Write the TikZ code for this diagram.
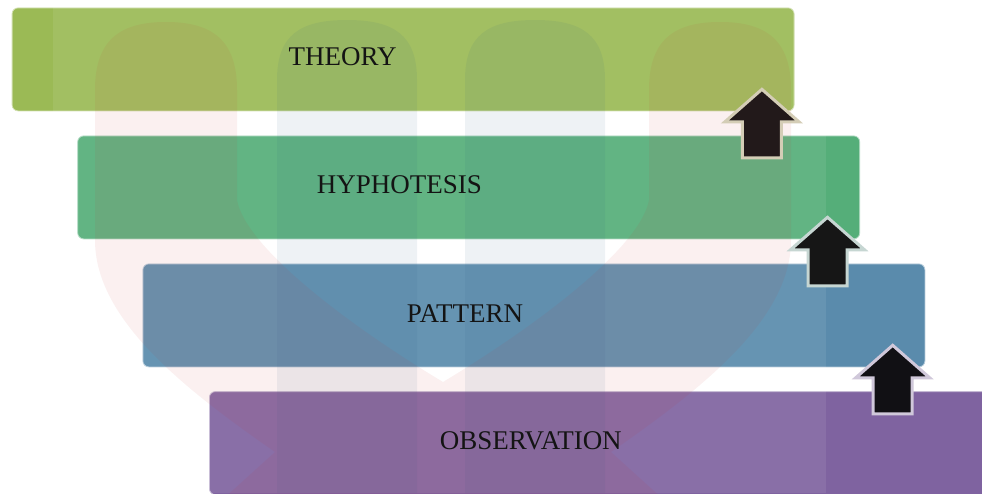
\documentclass[tikz,border=0pt]{standalone}
\usepackage{fontspec}
\setmainfont{Liberation Serif}
\usetikzlibrary{calc}
\definecolor{theorycol}{HTML}{9BBA55}
\definecolor{hypcol}{HTML}{55AE79}
\definecolor{patcol}{HTML}{5A8BAC}
\definecolor{obscol}{HTML}{7F63A0}
\definecolor{textcol}{HTML}{141414}
\definecolor{wmblue}{RGB}{40,90,130}
\definecolor{wmpink}{RGB}{200,50,50}
\definecolor{afillA}{HTML}{22191A}
\definecolor{alineA}{HTML}{D4CDB6}
\definecolor{afillB}{HTML}{161616}
\definecolor{alineB}{HTML}{C6D6D2}
\definecolor{afillC}{HTML}{111014}
\definecolor{alineC}{HTML}{D0C8DA}
\tikzset{
  bar/.style={rectangle, rounded corners=6pt, minimum width=782pt, minimum height=103pt,
    inner sep=0pt, anchor=north west, fill=#1, draw=white!55!#1, line width=0.8pt},
  lbl/.style={font=\fontsize{27}{30}\selectfont, text=textcol, inner sep=0pt},
  wmpill/.style={fill=wmblue, opacity=0.075},
  wmband/.style={fill=wmpink, opacity=0.07},
  pics/blockarrow/.style 2 args={code={
    \draw[fill=#1, draw=#2, line width=3pt, line join=miter]
      (0,0) -- (37,32.5) -- (19.5,32.5) -- (19.5,68.5) -- (-19.5,68.5)
      -- (-19.5,32.5) -- (-37,32.5) -- cycle;}}
}
\begin{document}
\begin{tikzpicture}[x=1pt,y=-1pt]
\useasboundingbox (0,0) rectangle (982,493);
\clip (0,0) rectangle (982,493);
\fill[white] (0,0) rectangle (982,493);
% bars
\node[bar=theorycol] (theory) at (11.7,7.5) {};
\node[bar=hypcol] (hyp) at (77.3,135.5) {};
\node[bar=patcol] (pattern) at (142.5,263.5) {};
\node[bar=obscol] (obs) at (209,391.2) {};
% faint watermark
\fill[white, opacity=0.08] (53,0) rectangle (826,493);
\fill[wmpill] (277,493) -- (277,80) .. controls (277,35) and (300,20) .. (347,20)
  .. controls (394,20) and (417,35) .. (417,80) -- (417,493) -- cycle;
\fill[wmpill] (465,493) -- (465,80) .. controls (465,35) and (488,20) .. (535,20)
  .. controls (582,20) and (605,35) .. (605,80) -- (605,493) -- cycle;
\fill[wmband] (95,240) -- (95,90) .. controls (95,40) and (120,22) .. (166,22)
  .. controls (212,22) and (237,40) .. (237,90) -- (237,200)
  .. controls (245,245) and (340,320) .. (443,382)
  .. controls (546,320) and (641,245) .. (649,200) -- (649,90)
  .. controls (649,40) and (674,22) .. (720,22)
  .. controls (766,22) and (791,40) .. (791,90) -- (791,240)
  .. controls (791,320) and (700,390) .. (611,452) -- (686,520) -- (200,520)
  -- (275,452) .. controls (186,390) and (95,320) .. (95,240) -- cycle;
% labels
\node[lbl] (t1) at ($(theory.north west)+(331,49.5)$) {THEORY};
\node[lbl] (t2) at ($(hyp.north west)+(322.2,49.5)$) {HYPHOTESIS};
\node[lbl] (t3) at ($(pattern.north west)+(322.5,50)$) {PATTERN};
\node[lbl] (t4) at ($(obs.north west)+(321.8,49.5)$) {OBSERVATION};
% arrows
\coordinate (a1) at ($(theory.south east)+(-32.6,-22)$);
\coordinate (a2) at ($(hyp.south east)+(-32.6,-22)$);
\coordinate (a3) at ($(pattern.south east)+(-32.6,-22)$);
\pic at (a1) {blockarrow={afillA}{alineA}};
\pic at (a2) {blockarrow={afillB}{alineB}};
\pic at (a3) {blockarrow={afillC}{alineC}};
\end{tikzpicture}
\end{document}
